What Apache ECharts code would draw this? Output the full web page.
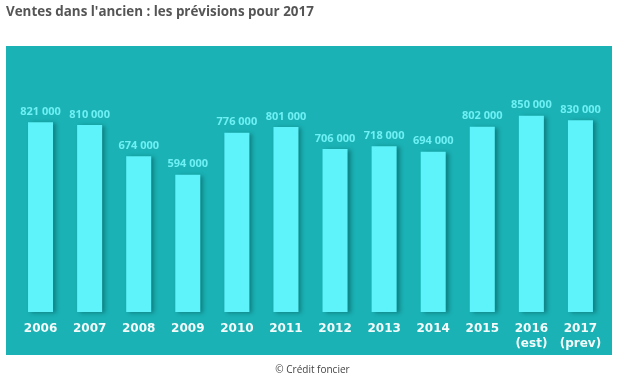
<!DOCTYPE html>
<html lang="fr">
<head>
<meta charset="UTF-8">
<title>Ventes dans l'ancien</title>
<script src="https://cdn.jsdelivr.net/npm/echarts@6/dist/echarts.min.js"></script>
<style>
  html, body { margin: 0; padding: 0; background: #fff; }
  #main { width: 625px; height: 377px; }
</style>
</head>
<body>
<div id="main"></div>
<script>
// Données
var annees = ['2006', '2007', '2008', '2009', '2010', '2011', '2012', '2013', '2014', '2015', '2016\n(est)', '2017\n(prev)'];
var ventes = [821000, 810000, 674000, 594000, 776000, 801000, 706000, 718000, 694000, 802000, 850000, 830000];

var chart = echarts.init(document.getElementById('main'));

function fmt(v) {
  // 821000 -> "821 000"
  return String(v).replace(/\B(?=(\d{3})+(?!\d))/g, ' ');
}

chart.setOption({
  animation: false,
  title: [
    {
      text: "Ventes dans l'ancien : les prévisions pour 2017",
      left: 6, top: 6, padding: 0,
      textStyle: { fontFamily: 'Open Sans', fontWeight: 'bold', fontSize: 13.4, color: '#555' }
    },
    {
      text: '© Crédit foncier',
      left: 'center', top: 360,
      textStyle: { fontFamily: 'Open Sans', fontWeight: 'normal', fontSize: 10, color: '#444' }
    }
  ],
  graphic: [
    {
      type: 'rect', z: -10,
      shape: { x: 6, y: 46, width: 606, height: 309 },
      style: { fill: '#1ab2b5' }
    }
  ],
  grid: { left: 16, width: 589, top: 81, height: 231 },
  xAxis: {
    type: 'category',
    data: annees,
    axisLine: { show: false },
    axisTick: { show: false },
    axisLabel: {
      interval: 0,
      color: '#f4fbfb', fontFamily: 'Verdana, DejaVu Sans', fontWeight: 'bold',
      fontSize: 12, margin: 9, lineHeight: 15
    }
  },
  yAxis: {
    type: 'value', min: 0, max: 1000000,
    show: false, splitLine: { show: false }
  },
  series: [{
    type: 'bar',
    data: ventes,
    barWidth: 25,
    itemStyle: {
      color: '#5ef3fa',
      shadowColor: 'rgba(0,70,72,0.45)',
      shadowBlur: 4,
      shadowOffsetX: 3,
      shadowOffsetY: 1
    },
    label: {
      show: true, position: 'top', distance: 5,
      formatter: function (p) { return fmt(p.value); },
      color: '#6ef0f4', fontFamily: 'Open Sans', fontWeight: 'bold', fontSize: 11
    }
  }]
});
</script>
</body>
</html>
